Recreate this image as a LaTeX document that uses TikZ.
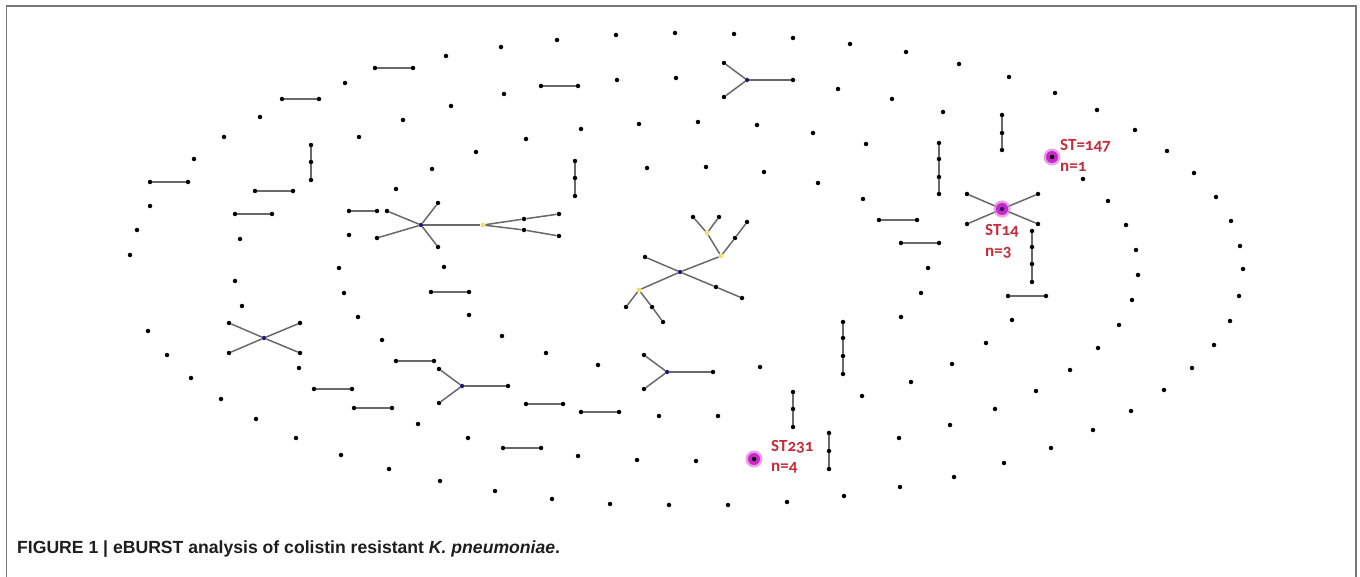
\documentclass[tikz,border=0pt]{standalone}
\usepackage{fontspec}
\setmainfont{Liberation Sans}
\newfontfamily\labfont[Numbers=OldStyle]{Carlito}
\definecolor{edgegray}{RGB}{105,105,105}
\definecolor{framegray}{RGB}{120,120,120}
\definecolor{hubblue}{RGB}{30,30,120}
\definecolor{yelnode}{RGB}{235,225,120}
\definecolor{hlmag}{RGB}{200,40,200}
\definecolor{hlglow}{RGB}{235,160,235}
\definecolor{labred}{RGB}{195,45,60}
\definecolor{captext}{RGB}{30,30,30}
\begin{document}
\begin{tikzpicture}[x=1pt,y=-1pt,
  dot/.style={circle,fill=black,inner sep=0pt,minimum size=4.5pt},
  hubdot/.style={circle,fill=hubblue,inner sep=0pt,minimum size=4.5pt},
  yeldot/.style={circle,fill=yelnode,inner sep=0pt,minimum size=5pt},
  edge/.style={draw=edgegray,line width=1.5pt},
  glow/.style={circle,fill=hlglow,inner sep=0pt,minimum size=17pt},
  ring/.style={circle,fill=hlmag,inner sep=0pt,minimum size=12pt},
  lab/.style={anchor=west,inner sep=0pt,text=labred,font=\labfont\bfseries\fontsize{17}{17}\selectfont},
  frameline/.style={draw=framegray,line width=1.5pt}]
\useasboundingbox (0,0) rectangle (1360,577);
% frame
\coordinate (fbl) at (6.5,577);
\coordinate (ftl) at (6.5,6);
\coordinate (ftr) at (1356,6);
\coordinate (fbr) at (1356,577);
\draw[frameline] (fbl) -- (ftl) -- (ftr) -- (fbr);
% highlights (under dots)
\node[glow] (g147) at (1052,157) {};
\node[ring] (r147) at (1052,157) {};
\node[glow] (g14) at (1002,209) {};
\node[ring] (r14) at (1002,209) {};
\node[glow] (g231) at (754,459) {};
\node[ring] (r231) at (754,459) {};
\node[dot] (st147) at (1052,157) {};
\node[dot] (st231) at (754,459) {};
% isolated sequence types
\foreach \x/\y [count=\i] in {446/56, 345/83, 451/106, 260/117, 403/120, 224/137, 359/137, 476/152, 194/159, 432/169, 396/189, 150/206, 349/235, 137/230, 240/239, 130/255, 339/268, 444/267, 501/47,
557/40, 616/35, 675/33, 734/34, 793/38, 850/44, 504/94, 617/80, 676/78, 838/89, 526/139, 581/129, 639/124, 698/122, 757/125, 813/133, 866/144, 647/168, 706/167, 764/172, 818/183, 863/199,
502/336, 546/353, 598/365, 760/367, 862/396, 659/416, 718/416, 578/456, 637/460, 696/461, 495/491, 552/499, 610/504, 669/505, 728/505, 787/502, 844/496,
235/281, 242/306, 148/331, 167/355, 299/368, 191/378, 221/399, 256/419, 296/438, 341/455, 389/469, 440/481, 344/293, 358/317, 382/340, 469/315, 418/424, 468/438,
906/52, 959/64, 1009/77, 1055/93, 1097/110, 1135/130, 1167/151, 1194/173, 1216/197, 1231/221, 1240/246, 1243/269, 892/99, 943/112, 1083/179, 1108/201, 1126/225, 1136/250, 928/268,
1138/275, 921/293, 1239/296, 1132/300, 901/317, 1012/320, 1230/321, 1119/325, 986/343, 1098/348, 1214/345, 952/364, 1070/370, 1192/368, 911/382, 1036/391, 1164/390, 995/409, 1131/411, 950/425, 1093/430, 899/438, 1051/448, 1004/463, 954/477, 900/487}
  \node[dot] (s\i) at (\x,\y) {};
% pairs
\foreach \xa/\ya/\xb/\yb [count=\i] in {375/68/413/68, 282/99/319/99, 150/182/188/182, 255/191/293/191, 235/214/272/214, 349/211/377/211, 541/86/578/86, 431/292/469/292, 396/361/434/361, 314/389/352/389, 354/408/392/408, 526/404/563/404, 581/412/619/412, 503/448/541/448, 879/220/917/220, 901/243/939/243, 1008/296/1046/296}
{
  \node[dot] (pa\i) at (\xa,\ya) {};
  \node[dot] (pb\i) at (\xb,\yb) {};
  \draw[edge] (pa\i) -- (pb\i);
}
% vertical chains of three
\foreach \x/\ya/\yb/\yc [count=\i] in {311/145/162/180, 575/161/178/196, 1002/115/133/150, 793/392/409/427, 829/433/451/469}
{
  \node[dot] (ca\i) at (\x,\ya) {};
  \node[dot] (cb\i) at (\x,\yb) {};
  \node[dot] (cc\i) at (\x,\yc) {};
  \draw[edge] (ca\i) -- (cb\i) -- (cc\i);
}
% vertical chains of four
\foreach \x/\ya/\yb/\yc/\yd [count=\i] in {939/143/159/177/194, 843/322/338/356/374, 1032/231/247/264/282}
{
  \node[dot] (da\i) at (\x,\ya) {};
  \node[dot] (db\i) at (\x,\yb) {};
  \node[dot] (dc\i) at (\x,\yc) {};
  \node[dot] (dd\i) at (\x,\yd) {};
  \draw[edge] (da\i) -- (db\i) -- (dc\i) -- (dd\i);
}
% star 1 (left, long)
\node[hubdot] (h1) at (421,225) {};
\node[dot] (h1a) at (387,211) {};
\node[dot] (h1b) at (377,238) {};
\node[dot] (h1c) at (438,203) {};
\node[dot] (h1d) at (438,247) {};
\node[yeldot] (y1) at (483,225) {};
\node[dot] (y1a) at (524,219) {};
\node[dot] (y1b) at (559,214) {};
\node[dot] (y1c) at (524,230) {};
\node[dot] (y1d) at (559,236) {};
\draw[edge] (h1) -- (h1a);
\draw[edge] (h1) -- (h1b);
\draw[edge] (h1) -- (h1c);
\draw[edge] (h1) -- (h1d);
\draw[edge] (h1) -- (y1);
\draw[edge] (y1) -- (y1a) -- (y1b);
\draw[edge] (y1) -- (y1c) -- (y1d);
% star 2 (top Y)
\node[hubdot] (h2) at (747,80) {};
\node[dot] (h2a) at (724,63) {};
\node[dot] (h2b) at (724,97) {};
\node[dot] (h2c) at (793,80) {};
\draw[edge] (h2) -- (h2a);
\draw[edge] (h2) -- (h2b);
\draw[edge] (h2) -- (h2c);
% star 3 (central tree)
\node[hubdot] (h3) at (680,272) {};
\node[dot] (h3a) at (645,257) {};
\node[yeldot] (y2) at (721,256) {};
\node[yeldot] (y3) at (707,233) {};
\node[dot] (y3a) at (693,217) {};
\node[dot] (y3b) at (719,217) {};
\node[dot] (y2a) at (735,238) {};
\node[dot] (y2b) at (747,222) {};
\node[dot] (h3b) at (716,287) {};
\node[dot] (h3c) at (742,298) {};
\node[yeldot] (y4) at (639,290) {};
\node[dot] (y4a) at (626,307) {};
\node[dot] (y4b) at (652,307) {};
\node[dot] (y4c) at (663,322) {};
\draw[edge] (h3) -- (h3a);
\draw[edge] (h3) -- (y2);
\draw[edge] (y2) -- (y3);
\draw[edge] (y3) -- (y3a);
\draw[edge] (y3) -- (y3b);
\draw[edge] (y2) -- (y2a) -- (y2b);
\draw[edge] (h3) -- (h3b) -- (h3c);
\draw[edge] (h3) -- (y4);
\draw[edge] (y4) -- (y4a);
\draw[edge] (y4) -- (y4b) -- (y4c);
% star 4 (left X)
\node[hubdot] (h4) at (264,338) {};
\node[dot] (h4a) at (229,323) {};
\node[dot] (h4b) at (300,323) {};
\node[dot] (h4c) at (229,353) {};
\node[dot] (h4d) at (300,353) {};
\draw[edge] (h4a) -- (h4) -- (h4d);
\draw[edge] (h4b) -- (h4) -- (h4c);
% star 5 (lower-left Y)
\node[hubdot] (h5) at (462,386) {};
\node[dot] (h5a) at (439,369) {};
\node[dot] (h5b) at (439,403) {};
\node[dot] (h5c) at (508,386) {};
\draw[edge] (h5) -- (h5a);
\draw[edge] (h5) -- (h5b);
\draw[edge] (h5) -- (h5c);
% star 6 (lower-centre Y)
\node[hubdot] (h6) at (667,372) {};
\node[dot] (h6a) at (644,355) {};
\node[dot] (h6b) at (644,389) {};
\node[dot] (h6c) at (713,372) {};
\draw[edge] (h6) -- (h6a);
\draw[edge] (h6) -- (h6b);
\draw[edge] (h6) -- (h6c);
% star 7 (ST14)
\node[dot] (h7a) at (967,194) {};
\node[dot] (h7b) at (1038,194) {};
\node[dot] (h7c) at (967,224) {};
\node[dot] (h7d) at (1038,224) {};
\draw[edge] (h7a) -- (r14) -- (h7d);
\draw[edge] (h7b) -- (r14) -- (h7c);
\node[glow,fill opacity=0.5] (g14b) at (1002,209) {};
\node[ring] (r14b) at (1002,209) {};
\node[hubdot] (h7) at (1002,209) {};
% labels
\node[lab] (l147a) at (1060,146) {ST=147};
\node[lab] (l147b) at (1060,167) {n=1};
\node[lab] (l14a) at (985,231) {ST14};
\node[lab] (l14b) at (985,253) {n=3};
\node[lab] (l231a) at (771,447) {ST231};
\node[lab] (l231b) at (771,468) {n=4};
% caption
\node[anchor=base west,inner sep=0pt,text=captext,font=\bfseries\fontsize{17.6}{20}\selectfont] (cap) at (17,553) {FIGURE 1 \textbar{} eBURST analysis of colistin resistant \textit{K. pneumoniae}.};
\end{tikzpicture}
\end{document}
